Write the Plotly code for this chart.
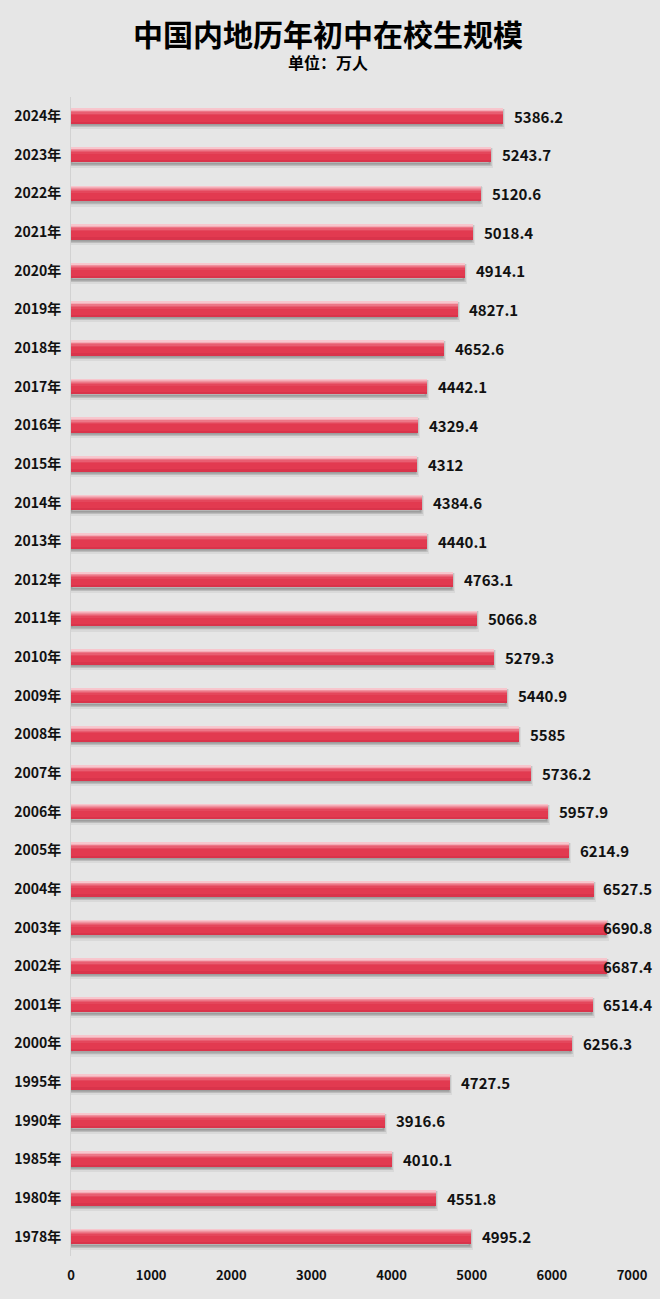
import plotly.graph_objects as go

years = ["1978年", "1980年", "1985年", "1990年", "1995年", "2000年", "2001年", "2002年",
         "2003年", "2004年", "2005年", "2006年", "2007年", "2008年", "2009年", "2010年",
         "2011年", "2012年", "2013年", "2014年", "2015年", "2016年", "2017年", "2018年",
         "2019年", "2020年", "2021年", "2022年", "2023年", "2024年"]
students = [4995.2, 4551.8, 4010.1, 3916.6, 4727.5, 6256.3, 6514.4, 6687.4,
            6690.8, 6527.5, 6214.9, 5957.9, 5736.2, 5585, 5440.9, 5279.3,
            5066.8, 4763.1, 4440.1, 4384.6, 4312, 4329.4, 4442.1, 4652.6,
            4827.1, 4914.1, 5018.4, 5120.6, 5243.7, 5386.2]
x_ticks = [0, 1000, 2000, 3000, 4000, 5000, 6000, 7000]

FONT = "Noto Sans CJK SC"
BW = 0.39
W, H = 660, 1299
ML, MR, MT, MB = 71, 24, 97, 43

fig = go.Figure()
# soft shadow (two layers)
fig.add_trace(go.Bar(y=years, x=students, orientation="h", width=BW, offset=-BW / 2 - 0.09,
                     marker=dict(color="rgba(70,70,70,0.10)",
                                 line=dict(color="rgba(70,70,70,0.08)", width=5)),
                     hoverinfo="skip", showlegend=False))
fig.add_trace(go.Bar(y=years, x=students, orientation="h", width=BW, offset=-BW / 2 - 0.06,
                     marker=dict(color="rgba(70,70,70,0.22)",
                                 line=dict(color="rgba(70,70,70,0.14)", width=3)),
                     hoverinfo="skip", showlegend=False))
# main bar
fig.add_trace(go.Bar(y=years, x=students, orientation="h", width=BW, offset=-BW / 2,
                     marker=dict(color="#e23a50", line=dict(width=0)),
                     showlegend=False))
# lower darker band
fig.add_trace(go.Bar(y=years, x=students, orientation="h", width=0.06, offset=-BW / 2,
                     marker=dict(color="#d9344b", line=dict(width=0)),
                     hoverinfo="skip", showlegend=False))
# gradient highlight bands from the top edge
bands = [(0.17, "#e4475c"), (0.13, "#e85e71"), (0.095, "#ec7787"),
         (0.065, "#f0929f"), (0.04, "#f4adb7"), (0.02, "#f7c6cd")]
for w, c in bands:
    fig.add_trace(go.Bar(y=years, x=students, orientation="h", width=w, offset=BW / 2 - w,
                         marker=dict(color=c, line=dict(width=0)),
                         hoverinfo="skip", showlegend=False))

annotations = []
for yr, v in zip(years, students):
    annotations.append(dict(x=min(v, 6500), y=yr, xref="x", yref="y", text=f"{v:g}",
                            showarrow=False, xanchor="left", yanchor="middle", xshift=9,
                            font=dict(family=FONT, size=15, color="#111111", weight="bold")))

# page-centred title block
page_cx = (W / 2 - ML) / (W - ML - MR)
annotations.append(dict(x=page_cx, y=1.0, xref="paper", yref="paper", xanchor="center", yanchor="middle",
                        yshift=MT - 33, text="中国内地历年初中在校生规模", showarrow=False,
                        font=dict(family=FONT, size=30, color="#000000", weight="bold")))
annotations.append(dict(x=page_cx, y=1.0, xref="paper", yref="paper", xanchor="center", yanchor="middle",
                        yshift=MT - 62, text="单位：万人", showarrow=False,
                        font=dict(family=FONT, size=16, color="#000000", weight="bold")))

fig.update_layout(
    width=W, height=H,
    margin=dict(l=ML, r=MR, t=MT, b=MB),
    paper_bgcolor="#e6e6e6", plot_bgcolor="#e6e6e6",
    barmode="overlay", bargap=0,
    annotations=annotations,
    xaxis=dict(range=[0, 7000], tickvals=x_ticks, showgrid=False, zeroline=False,
               showline=False, ticks="", ticklabelstandoff=10,
               tickfont=dict(family=FONT, size=13, color="#111111", weight="bold")),
    yaxis=dict(type="category", categoryorder="array", categoryarray=years,
               showgrid=False, zeroline=False, showline=True, linecolor="#d2d2d2", linewidth=1,
               ticks="", ticklabelstandoff=6,
               tickfont=dict(family=FONT, size=14, color="#111111", weight="bold")),
)

fig.write_html("out.html")
